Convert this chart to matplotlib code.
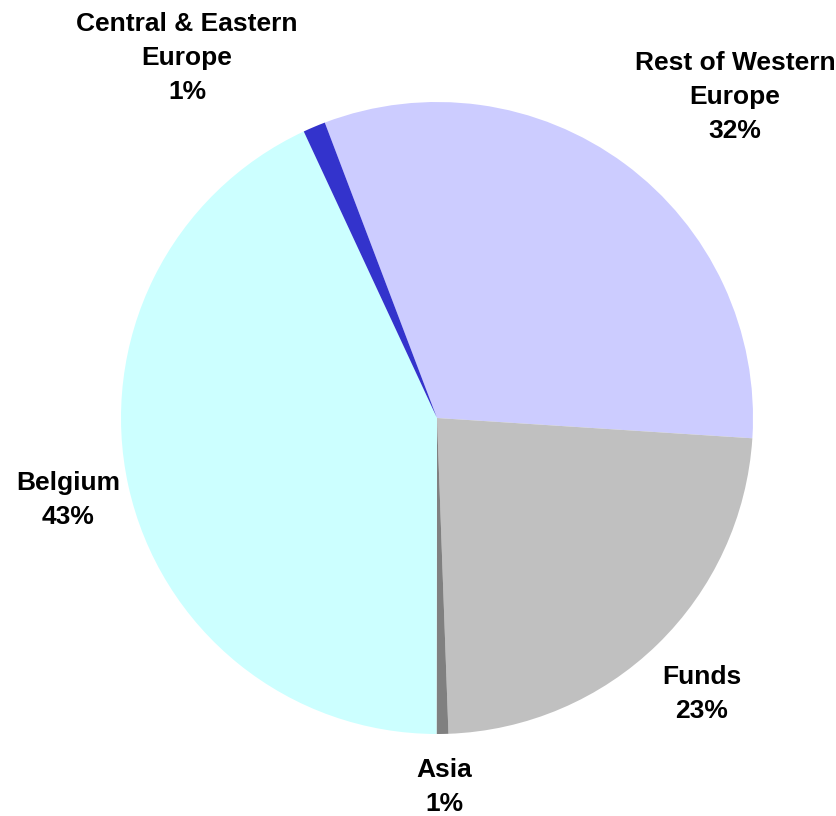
import matplotlib.pyplot as plt

# porciones en sentido horario, empezando por "Rest of Western Europe"
regiones = ["Rest of Western\nEurope", "Funds", "Asia", "Belgium", "Central & Eastern\nEurope"]
valores = [31.8, 23.4, 0.6, 43.05, 1.15]
colores = ["#CCCCFF", "#C0C0C0", "#808080", "#CCFFFF", "#3333CC"]

# posiciones de las etiquetas en pixeles (x, y desde arriba)
pos_etiquetas = [(735, 97), (702, 694), (444, 787), (68, 500), (187, 58)]

W, H = 837, 816
cx, cy, r = 437, 418, 316

fig = plt.figure(figsize=(W / 100, H / 100), dpi=100)
ax = fig.add_axes([0, 0, 1, 1])
ax.pie(valores, colors=colores, startangle=110.8, counterclock=False,
       radius=1, center=(0, 0), wedgeprops={"linewidth": 0})
ax.set_xlim(-cx / r, (W - cx) / r)
ax.set_ylim(-(H - cy) / r, cy / r)
ax.set_aspect("equal")
ax.axis("off")

total = sum(valores)
for nombre, v, (px, py) in zip(regiones, valores, pos_etiquetas):
    texto = f"{nombre}\n{round(v / total * 100)}%"
    fig.text(px / W, 1 - py / H, texto, ha="center", va="center",
             fontsize=19, fontweight="bold", family="Liberation Sans",
             linespacing=1.52, multialignment="center")

fig.savefig("out.png", dpi=100)
